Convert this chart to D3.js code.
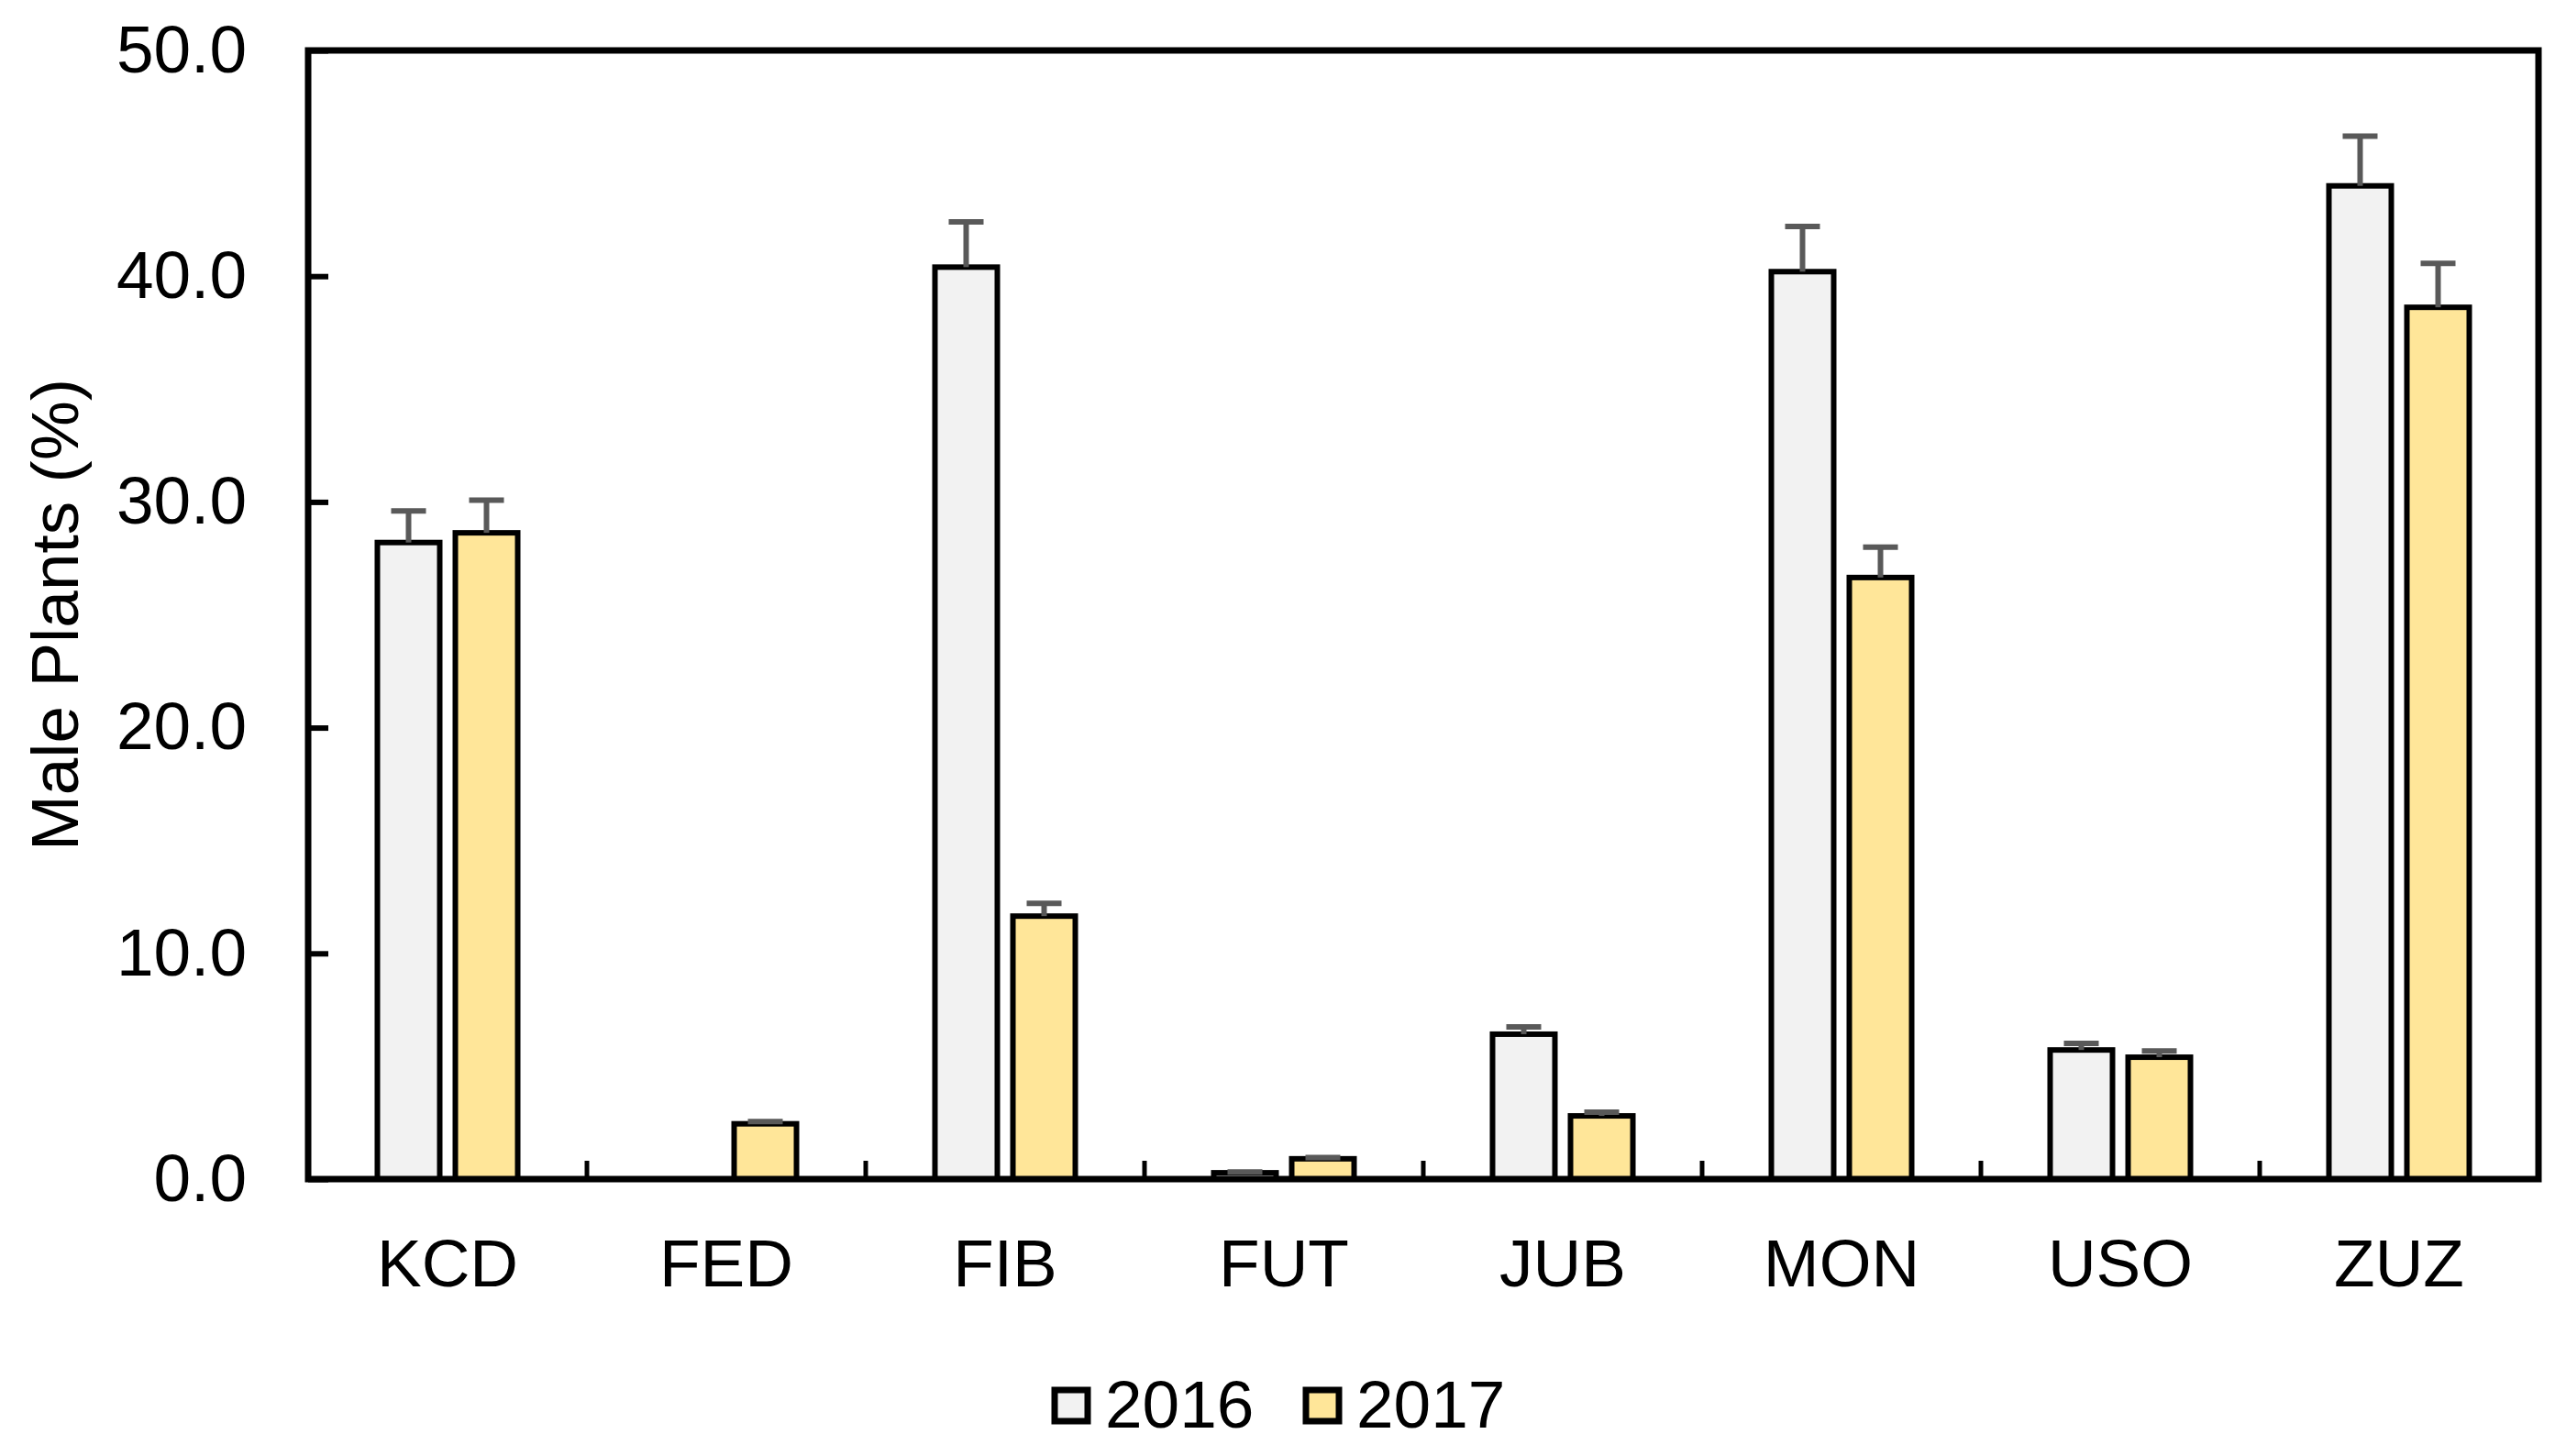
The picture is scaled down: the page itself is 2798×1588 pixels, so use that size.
<!DOCTYPE html>
<html>
<head>
<meta charset="utf-8">
<script src="https://cdn.jsdelivr.net/npm/d3@7"></script>
<style>
  html, body { margin: 0; padding: 0; background: #ffffff; }
  svg { display: block; }
  text { font-family: "Liberation Sans", Arial, sans-serif; fill: #000; }
</style>
</head>
<body>
<svg id="chart" width="2798" height="1588"></svg>
<script>
// ---- data ----
const categories = ["KCD", "FED", "FIB", "FUT", "JUB", "MON", "USO", "ZUZ"];
const seriesNames = ["2016", "2017"];
const values2016 = [28.2, 0, 40.4, 0.28, 6.42, 40.2, 5.72, 44.0];
const errors2016 = [1.4, 0, 2.0, 0.03, 0.32, 2.0, 0.29, 2.2];
const values2017 = [28.63, 2.45, 11.65, 0.9, 2.8, 26.65, 5.4, 38.62];
const errors2017 = [1.45, 0.1, 0.57, 0.05, 0.16, 1.35, 0.28, 1.95];
const yTicks = [0, 10, 20, 30, 40, 50];
const yTitle = "Male Plants (%)";
const fills = ["#F2F2F2", "#FFE699"];

// ---- layout ----
const svg = d3.select("#chart");
const plotLeft = 336, plotRight = 2768, plotTop = 55, plotBottom = 1286;

const x = d3.scaleBand().domain(categories).range([plotLeft, plotRight]).paddingInner(0).paddingOuter(0);
const xs = d3.scaleBand().domain(seriesNames).range([0, x.bandwidth()]).paddingInner(0.2).paddingOuter(0.888);
const y = d3.scaleLinear().domain([0, 50]).range([plotBottom, plotTop]);

const rows = [];
categories.forEach((c, i) => {
  rows.push({cat: c, s: "2016", v: values2016[i], e: errors2016[i], fill: fills[0]});
  rows.push({cat: c, s: "2017", v: values2017[i], e: errors2017[i], fill: fills[1]});
});
const shown = rows.filter(d => d.v > 0);

// bars
svg.append("g").selectAll("rect").data(shown).join("rect")
  .attr("x", d => x(d.cat) + xs(d.s))
  .attr("y", d => y(d.v))
  .attr("width", xs.bandwidth())
  .attr("height", d => y(0) - y(d.v))
  .attr("fill", d => d.fill)
  .attr("stroke", "#000")
  .attr("stroke-width", 6);

// error bars
const eg = svg.append("g").attr("stroke", "#595959").attr("stroke-width", 6);
eg.selectAll("line.stem").data(shown).join("line").attr("class", "stem")
  .attr("x1", d => x(d.cat) + xs(d.s) + xs.bandwidth() / 2)
  .attr("x2", d => x(d.cat) + xs(d.s) + xs.bandwidth() / 2)
  .attr("y1", d => y(d.v))
  .attr("y2", d => y(d.v + d.e));
eg.selectAll("line.cap").data(shown).join("line").attr("class", "cap")
  .attr("x1", d => x(d.cat) + xs(d.s) + xs.bandwidth() / 2 - 19)
  .attr("x2", d => x(d.cat) + xs(d.s) + xs.bandwidth() / 2 + 19)
  .attr("y1", d => y(d.v + d.e))
  .attr("y2", d => y(d.v + d.e));

// x tick marks at band boundaries (pointing up)
svg.append("g").selectAll("line").data(categories.slice(1)).join("line")
  .attr("x1", d => x(d)).attr("x2", d => x(d))
  .attr("y1", plotBottom).attr("y2", plotBottom - 20)
  .attr("stroke", "#000").attr("stroke-width", 5);

// y axis
const yAxis = d3.axisLeft(y).tickValues(yTicks).tickFormat(d3.format(".1f")).tickSize(-22).tickPadding(67);
const ya = svg.append("g").attr("transform", `translate(${plotLeft},0)`).call(yAxis);
ya.select(".domain").remove();
ya.selectAll(".tick line").attr("stroke", "#000").attr("stroke-width", 6);
ya.selectAll(".tick text").attr("font-size", 73).attr("font-family", "Liberation Sans, Arial, sans-serif").attr("fill", "#000");

// x axis labels
const xAxis = d3.axisBottom(x).tickSize(0).tickPadding(65);
const xa = svg.append("g").attr("transform", `translate(0,${plotBottom})`).call(xAxis);
xa.select(".domain").remove();
xa.selectAll(".tick text").attr("font-size", 73).attr("font-family", "Liberation Sans, Arial, sans-serif").attr("fill", "#000");

// frame
svg.append("rect")
  .attr("x", plotLeft).attr("y", plotTop)
  .attr("width", plotRight - plotLeft).attr("height", plotBottom - plotTop)
  .attr("fill", "none").attr("stroke", "#000").attr("stroke-width", 7);

// y title
svg.append("text")
  .attr("transform", `translate(85,${(plotTop + plotBottom) / 2}) rotate(-90)`)
  .attr("text-anchor", "middle")
  .attr("font-size", 73)
  .text(yTitle);

// legend
const legendX = [1150, 1424];
const lg = svg.append("g");
seriesNames.forEach((s, i) => {
  lg.append("rect")
    .attr("x", legendX[i]).attr("y", 1516)
    .attr("width", 36).attr("height", 34)
    .attr("fill", fills[i]).attr("stroke", "#000").attr("stroke-width", 7);
  lg.append("text")
    .attr("x", legendX[i] + 55).attr("y", 1557)
    .attr("font-size", 73)
    .text(s);
});
</script>
</body>
</html>
